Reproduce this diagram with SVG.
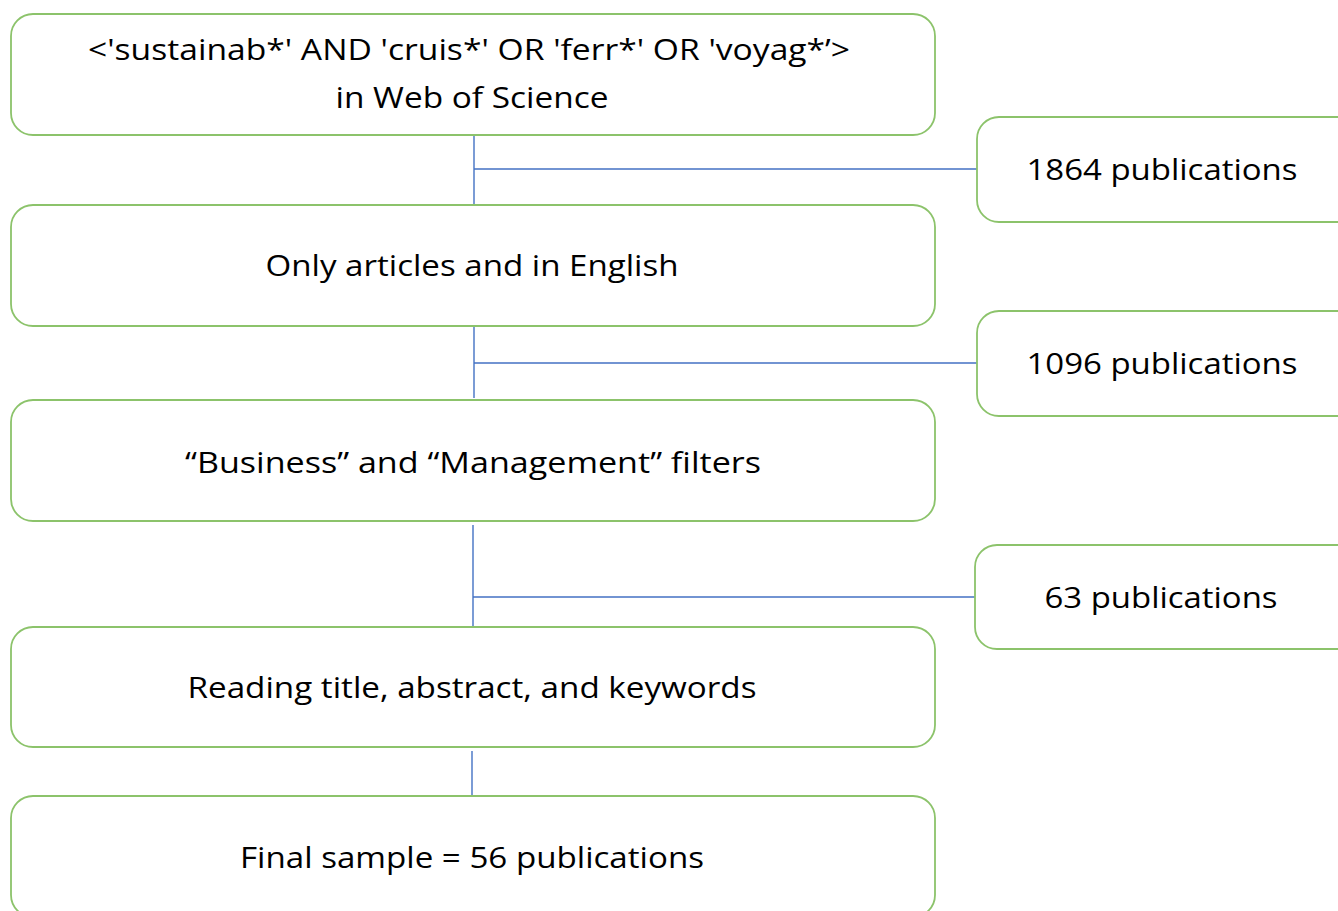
<svg xmlns="http://www.w3.org/2000/svg" width="1338" height="911" viewBox="0 0 1338 911">
<style>
.box{fill:#fff;stroke:#8cc36b;stroke-width:1.8}
.t{font-family:"Open Sans","Liberation Sans",sans-serif;font-size:30px;fill:#000;text-anchor:middle}
.c{stroke:#4472c4;stroke-width:1.4;fill:none}
</style>
<rect width="1338" height="911" fill="#fff"/>
<g id="connectors">
<path class="c" d="M474 135V205M474 169H977"/>
<path class="c" d="M474 326V398M474 363H977"/>
<path class="c" d="M473 525V626M473 597H975"/>
<path class="c" d="M472 751V795"/>
</g>
<g id="n1"><rect class="box" x="11" y="14" width="924" height="121" rx="22"/>
<text class="t" x="469" y="60" textLength="762" lengthAdjust="spacingAndGlyphs">&lt;'sustainab*' AND 'cruis*' OR 'ferr*' OR 'voyag*’&gt;</text>
<text class="t" x="472" y="108" textLength="273" lengthAdjust="spacingAndGlyphs">in Web of Science</text></g>
<g id="n2"><rect class="box" x="11" y="205" width="924" height="121" rx="22"/>
<text class="t" x="472" y="276" textLength="413" lengthAdjust="spacingAndGlyphs">Only articles and in English</text></g>
<g id="n3"><rect class="box" x="11" y="400" width="924" height="121" rx="22"/>
<text class="t" x="473" y="473" textLength="576" lengthAdjust="spacingAndGlyphs">“Business” and “Management” filters</text></g>
<g id="n4"><rect class="box" x="11" y="627" width="924" height="120" rx="22"/>
<text class="t" x="472" y="698" textLength="569" lengthAdjust="spacingAndGlyphs">Reading title, abstract, and keywords</text></g>
<g id="n5"><rect class="box" x="11" y="796" width="924" height="121" rx="22"/>
<text class="t" x="472" y="868" textLength="464" lengthAdjust="spacingAndGlyphs">Final sample = 56 publications</text></g>
<g id="r1"><rect class="box" x="977" y="117" width="400" height="105" rx="22"/>
<text class="t" x="1162" y="180" textLength="271" lengthAdjust="spacingAndGlyphs">1864 publications</text></g>
<g id="r2"><rect class="box" x="977" y="311" width="400" height="105" rx="22"/>
<text class="t" x="1162" y="374" textLength="271" lengthAdjust="spacingAndGlyphs">1096 publications</text></g>
<g id="r3"><rect class="box" x="975" y="545" width="400" height="104" rx="22"/>
<text class="t" x="1161" y="608" textLength="233" lengthAdjust="spacingAndGlyphs">63 publications</text></g>
</svg>
